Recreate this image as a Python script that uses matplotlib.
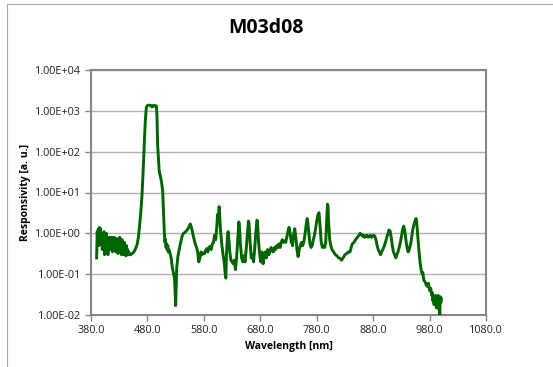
import matplotlib
matplotlib.use("Agg")
import matplotlib.pyplot as plt
from matplotlib.patches import Rectangle
from matplotlib.ticker import FixedLocator, FuncFormatter, NullLocator

# Spectral responsivity of channel M03d08
wavelength_nm = [
    390, 391, 392, 393, 394, 395, 396, 397, 398, 399, 400, 401, 402, 403, 404, 405,
    406, 407, 408, 409, 410, 411, 412, 413, 414, 415, 416, 417, 418, 419, 420, 421,
    422, 423, 424, 425, 426, 427, 428, 429, 430, 431, 432, 433, 434, 435, 436, 437,
    438, 439, 440, 441, 442, 443, 444, 445, 446, 447, 448, 450, 453, 456, 459, 462,
    464, 466, 468, 470, 472, 474, 476, 478, 480, 483, 486, 488, 490, 492, 494, 496,
    497, 498, 500, 501, 503, 505, 507, 508, 509, 510, 511, 512, 513, 514, 515, 516,
    517, 518, 520, 522, 524, 526, 528, 529, 530, 531, 532, 534, 537, 540, 542, 544,
    546, 548, 550, 552, 554, 556, 558, 561, 564, 567, 569, 571, 573, 575, 577, 579,
    581, 583, 585, 587, 589, 591, 593, 595, 597, 599, 601, 603, 604, 605, 606, 607,
    608, 609, 610, 612, 614, 616, 618, 619, 620, 622, 623, 624, 626, 628, 630, 632,
    634, 636, 638, 640, 642, 643, 645, 647, 649, 651, 653, 655, 657, 659, 660, 662,
    664, 666, 668, 670, 672, 674, 675, 677, 679, 681, 683, 685, 687, 689, 691, 693,
    695, 697, 699, 701, 703, 705, 707, 709, 711, 713, 715, 717, 719, 721, 723, 725,
    727, 729, 731, 733, 735, 736, 737, 739, 741, 743, 745, 747, 749, 751, 753, 755,
    757, 759, 761, 763, 764, 766, 768, 770, 772, 774, 776, 778, 780, 782, 784, 786,
    788, 790, 792, 794, 796, 798, 799, 800, 801, 803, 805, 807, 810, 813, 816, 819,
    822, 824, 826, 828, 830, 833, 836, 839, 841, 843, 846, 849, 852, 855, 857, 859,
    861, 863, 865, 867, 869, 871, 873, 875, 877, 879, 881, 883, 885, 887, 889, 891,
    893, 895, 897, 900, 903, 906, 908, 910, 912, 914, 916, 918, 920, 922, 924, 927,
    930, 932, 934, 936, 938, 940, 942, 944, 947, 950, 953, 956, 957, 959, 961, 963,
    965, 967, 968, 970, 972, 974, 976, 978, 980, 982, 984, 985, 986, 987, 988, 989,
    990, 991, 992, 993, 994, 995, 996, 997, 998, 999, 1000, 1001,
]

responsivity = [
    0.25, 1.1, 0.6, 1.3, 0.5, 1.4, 0.7, 1.3, 0.55, 1.0, 0.4, 0.9, 0.6, 1.1, 0.3, 0.9,
    0.6, 1.0, 0.5, 0.8, 0.3, 0.7, 0.5, 0.8, 0.4, 0.75, 0.45, 0.8, 0.35, 0.7, 0.45, 0.8,
    0.4, 0.6, 0.35, 0.75, 0.45, 0.6, 0.32, 0.7, 0.4, 0.8, 0.35, 0.55, 0.3, 0.7, 0.4, 0.5,
    0.3, 0.6, 0.35, 0.45, 0.28, 0.5, 0.3, 0.4, 0.3, 0.35, 0.3, 0.3, 0.32, 0.35, 0.42, 0.55,
    0.8, 1.5, 3.0, 7.0, 25.0, 110.0, 500.0, 1200.0, 1350.0, 1380.0, 1350.0, 1250.0, 1350.0, 1300.0, 1350.0, 1300.0,
    700.0, 150.0, 50.0, 32.0, 25.0, 18.0, 11.0, 5.0, 2.5, 1.0, 0.6, 0.7, 0.45, 0.55, 0.4, 0.5,
    0.35, 0.4, 0.33, 0.25, 0.15, 0.11, 0.08, 0.04, 0.017, 0.05, 0.15, 0.27, 0.45, 0.7, 0.9, 1.0,
    1.05, 1.1, 1.2, 1.3, 1.5, 1.7, 1.4, 0.9, 0.6, 0.45, 0.35, 0.2, 0.25, 0.35, 0.3, 0.33,
    0.32, 0.38, 0.42, 0.35, 0.45, 0.48, 0.4, 0.55, 0.6, 0.9, 0.7, 1.5, 2.5, 3.0, 2.0, 4.5,
    3.0, 1.5, 1.0, 0.5, 0.3, 0.2, 0.1, 0.08, 0.3, 0.9, 1.1, 0.8, 0.35, 0.22, 0.2, 0.18,
    0.22, 0.13, 0.25, 0.7, 1.9, 1.5, 0.5, 0.25, 0.2, 0.28, 0.2, 0.4, 0.9, 2.0, 1.8, 0.6,
    0.25, 0.3, 0.2, 0.4, 1.0, 2.1, 2.0, 0.6, 0.3, 0.2, 0.35, 0.18, 0.3, 0.35, 0.25, 0.4,
    0.3, 0.35, 0.45, 0.4, 0.35, 0.45, 0.4, 0.5, 0.45, 0.55, 0.45, 0.6, 0.7, 0.6, 0.65, 0.6,
    0.8, 1.1, 1.4, 1.0, 0.6, 0.7, 0.5, 0.9, 1.3, 0.8, 0.4, 0.27, 0.4, 0.5, 0.6, 0.5,
    0.6, 0.9, 1.5, 2.3, 2.0, 1.0, 0.55, 0.45, 0.5, 0.7, 0.9, 1.3, 2.0, 2.8, 3.2, 1.5,
    0.6, 0.45, 0.5, 0.45, 0.6, 2.5, 5.2, 4.5, 2.0, 0.7, 0.5, 0.4, 0.35, 0.3, 0.28, 0.25,
    0.24, 0.22, 0.24, 0.27, 0.3, 0.32, 0.35, 0.35, 0.45, 0.55, 0.6, 0.7, 0.8, 0.9, 1.0, 0.95,
    0.85, 0.9, 0.8, 0.85, 0.9, 0.8, 0.85, 0.9, 0.8, 0.85, 0.9, 0.85, 0.7, 0.5, 0.4, 0.35,
    0.3, 0.35, 0.4, 0.5, 0.7, 1.0, 1.2, 1.15, 0.8, 0.5, 0.35, 0.3, 0.25, 0.3, 0.35, 0.5,
    0.8, 1.2, 1.5, 1.2, 0.7, 0.45, 0.35, 0.4, 0.6, 1.2, 1.8, 2.3, 2.0, 0.9, 0.4, 0.2,
    0.13, 0.1, 0.11, 0.07, 0.065, 0.055, 0.05, 0.06, 0.04, 0.045, 0.03, 0.035, 0.022, 0.03, 0.018, 0.028,
    0.02, 0.03, 0.015, 0.028, 0.02, 0.03, 0.014, 0.025, 0.01, 0.028, 0.02, 0.025,
]

x_ticks = [380, 480, 580, 680, 780, 880, 980, 1080]
y_ticks = [1e-2, 1e-1, 1e0, 1e1, 1e2, 1e3, 1e4]

plt.rcParams["font.family"] = ["Open Sans", "DejaVu Sans"]

fig = plt.figure(figsize=(5.53, 3.67), dpi=100)
fig.patch.set_facecolor("white")

# chart-area border
fig.add_artist(Rectangle((7 / 553, -0.2), 1.5, 1 - 4 / 367 + 0.2,
                         transform=fig.transFigure, fill=False,
                         edgecolor="#a6a6a6", linewidth=0.8))

ax = fig.add_axes([91 / 553, 1 - 315 / 367, (486 - 91) / 553, (315 - 70) / 367])

ax.plot(wavelength_nm, responsivity, color="#006400", linewidth=2.1,
        solid_joinstyle="round", zorder=3)

ax.set_yscale("log")
ax.set_xlim(380, 1080)
ax.set_ylim(1e-2, 1e4)

ax.xaxis.set_major_locator(FixedLocator(x_ticks))
ax.xaxis.set_major_formatter(FuncFormatter(lambda v, p: f"{v:.1f}"))
ax.yaxis.set_major_locator(FixedLocator(y_ticks))
ax.yaxis.set_minor_locator(NullLocator())
ax.yaxis.set_major_formatter(FuncFormatter(lambda v, p: f"{v:.2E}"))

ax.grid(axis="y", color="#b0b0b0", linewidth=1.0, zorder=0)
ax.set_axisbelow(True)

for s in ax.spines.values():
    s.set_color("#868686")
    s.set_linewidth(1.5)

ax.tick_params(axis="both", which="major", direction="out", length=4,
               width=1.0, color="#868686", labelsize=7.8, labelcolor="#222222", pad=3)

ax.set_xlabel("Wavelength [nm]", fontsize=7.5, fontweight="bold", labelpad=4)
ax.set_ylabel("Responsivity [a. u.]", fontsize=7.5, fontweight="bold", labelpad=3)

fig.text(266 / 553, 1 - 28 / 367, "M03d08", ha="center", va="center",
         fontsize=14, fontweight="bold")

fig.savefig("out.png", dpi=100)
